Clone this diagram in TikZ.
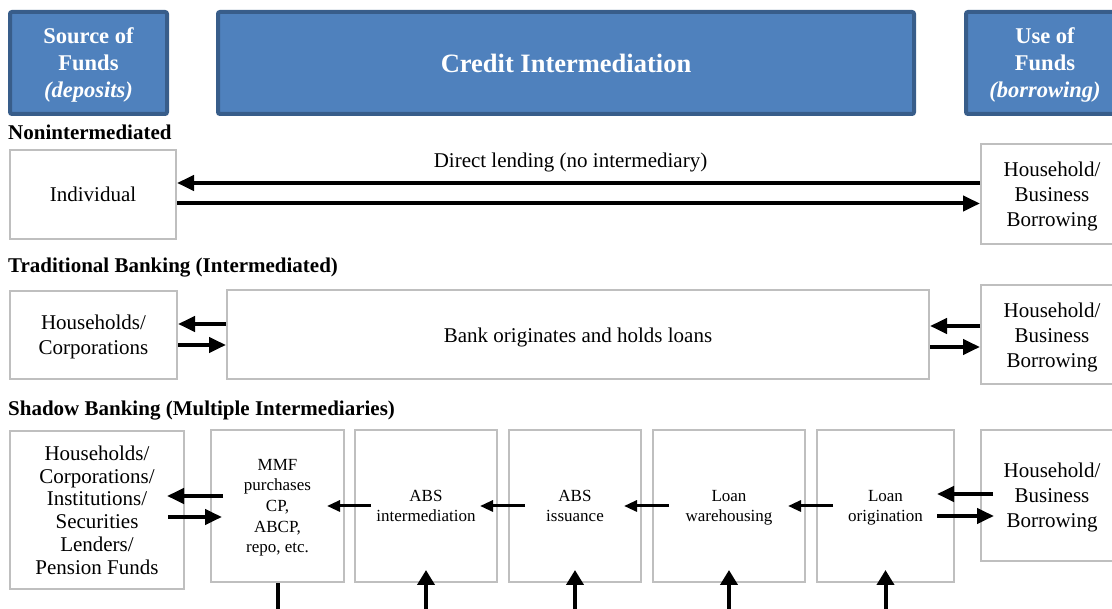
\documentclass[tikz,border=0pt]{standalone}
\usepackage{fontspec}
\setmainfont{Liberation Serif}
\usepackage{tikz}
\usetikzlibrary{
  arrows.meta,
  calc,
  positioning,
}
\definecolor{headfill}{RGB}{79, 129, 189}
\definecolor{headline}{RGB}{56, 93, 138}
\definecolor{boxline}{RGB}{191, 191, 191}
\newcommand{\hdrtxt}{\fontsize{22.5}{27}\selectfont\bfseries}
\newcommand{\crtxt}{\fontsize{26.5}{32}\selectfont\bfseries}
\newcommand{\rowtxt}{\fontsize{21}{25}\selectfont\bfseries}
\newcommand{\boxtxt}{\fontsize{21}{25}\selectfont}
\newcommand{\tallboxtxt}{\fontsize{21}{22.8}\selectfont}
\newcommand{\cellfont}{\fontsize{17}{20.7}\selectfont}
\tikzstyle{headbox} = [
  draw=headline,
  fill=headfill,
  line width=4pt,
  rounded corners=2pt,
  text=white,
  align=center,
  text depth=-9pt,
  minimum height=102,
]
\tikzstyle{plainbox} = [
  draw=boxline,
  line width=2pt,
  rectangle,
  align=center,
  text depth=0pt,
  inner sep=0pt,
]
\tikzstyle{rowhead} = [anchor=west, inner sep=0pt, font=\rowtxt]
\tikzstyle{flow} = [-{Triangle[length=17pt,width=15pt]}, line width=4pt]
\tikzstyle{thinflow} = [
  -{Triangle[length=13pt,width=11pt]},
  line width=3pt,
  shorten <=-17pt,
  shorten >=-18pt,
]
\tikzstyle{upflow} = [-{Triangle[length=15pt,width=17pt]}, line width=4pt, shorten >=-13pt]

\begin{document}
\begin{tikzpicture}[x=1pt, y=1pt, node distance=10pt]
      \useasboundingbox (0,0) rectangle (1112,609);
      \clip (0,0) rectangle (1112,609);

      % column heads
      \node[headbox, minimum width=157, font=\hdrtxt] (src) at (88.5,546) {Source of\\Funds\\\textit{(deposits)}};
      \node[headbox, minimum width=696, font=\crtxt] (credit) at (566,546) {Credit Intermediation};
      \node[headbox, minimum width=158, font=\hdrtxt] (use) at (1045,546) {Use of\\Funds\\\textit{(borrowing)}};

      % nonintermediated
      \node[rowhead] (nonint) at (8,477) {Nonintermediated};
      \node[plainbox, minimum width=166, minimum height=89, font=\boxtxt] (indiv) at (93,414.5) {Individual};
      \node[plainbox, minimum width=142, minimum height=100, font=\boxtxt] (hhone) at (1052,415) {Household/\\Business\\Borrowing};
      \draw[flow] ([yshift=11pt]hhone.west) -- ([yshift=11pt]hhone.west -| indiv.east)
        node[midway, above=9pt, xshift=-8pt, inner sep=0pt, font=\boxtxt, text=black] (direct) {Direct lending (no intermediary)};
      \draw[flow] ([yshift=-9pt]indiv.east) -- ([yshift=-9pt]indiv.east -| hhone.west);

      % traditional banking
      \node[rowhead] (trad) at (8,341) {Traditional Banking (Intermediated)};
      \node[plainbox, minimum width=167, minimum height=88, font=\boxtxt] (hhcorp) at (93.5,274) {Households/\\Corporations};
      \node[plainbox, minimum width=702, minimum height=89, font=\boxtxt, right=48pt of hhcorp] (bank) {Bank originates and holds loans};
      \node[plainbox, minimum width=142, minimum height=99, font=\boxtxt, right=50pt of bank] (hhtwo) {Household/\\Business\\Borrowing};
      \draw[flow] ([yshift=11pt]bank.west) -- ([yshift=11pt]hhcorp.east);
      \draw[flow] ([yshift=-10pt]hhcorp.east) -- ([yshift=-10pt]bank.west);
      \draw[flow] ([yshift=9pt]hhtwo.west) -- ([yshift=9pt]bank.east);
      \draw[flow] ([yshift=-12pt]bank.east) -- ([yshift=-12pt]hhtwo.west);

      % shadow banking
      \node[rowhead] (shadow) at (8,198) {Shadow Banking (Multiple Intermediaries)};
      \node[plainbox, minimum width=174, minimum height=158, font=\tallboxtxt] (hhinst) at (97,99) {Households/\\Corporations/\\Institutions/\\Securities\\Lenders/\\Pension Funds};
      \node[plainbox, minimum width=133, minimum height=152, font=\cellfont] (mmf) at (277.5,103) {MMF\\purchases\\CP,\\ABCP,\\repo, etc.};
      \node[plainbox, minimum width=142, minimum height=152, font=\cellfont, right=9pt of mmf] (absint) {ABS\\intermediation};
      \node[plainbox, minimum width=132, minimum height=152, font=\cellfont, right=of absint] (absiss) {ABS\\issuance};
      \node[plainbox, minimum width=152, minimum height=152, font=\cellfont, right=of absiss] (loanwh) {Loan\\warehousing};
      \node[plainbox, minimum width=137, minimum height=152, font=\cellfont, right=of loanwh] (loanorig) {Loan\\origination};
      \node[plainbox, minimum width=142, minimum height=131, font=\boxtxt] (hhthree) at (1052,113.5) {Household/\\Business\\Borrowing};

      \draw[flow, shorten <=-13pt, shorten >=-18pt] ([yshift=10pt]mmf.west) -- ([yshift=10pt]mmf.west -| hhinst.east);
      \draw[flow, shorten <=-17pt, shorten >=-12pt] ([yshift=-11pt]mmf.west -| hhinst.east) -- ([yshift=-11pt]mmf.west);
      \draw[thinflow] (absint.west) -- (mmf.east);
      \draw[thinflow] (absiss.west) -- (absint.east);
      \draw[thinflow] (loanwh.west) -- (absiss.east);
      \draw[thinflow] (loanorig.west) -- (loanwh.east);
      \draw[flow, shorten <=-13pt, shorten >=-18pt] ([yshift=12pt]loanorig.east -| hhthree.west) -- ([yshift=12pt]loanorig.east);
      \draw[flow, shorten <=-18pt, shorten >=-14pt] ([yshift=-10pt]loanorig.east) -- ([yshift=-10pt]loanorig.east -| hhthree.west);

      % flows leaving the picture at the bottom
      \coordinate[below=60pt of mmf.south] (mmfout);
      \coordinate[below=60pt of absint.south] (absintin);
      \coordinate[below=60pt of absiss.south] (absissin);
      \coordinate[below=60pt of loanwh.south] (loanwhin);
      \coordinate[below=60pt of loanorig.south] (loanorigin);
      \draw[line width=4pt] (mmf.south) -- (mmfout);
      \draw[upflow] (absintin) -- (absint.south);
      \draw[upflow] (absissin) -- (absiss.south);
      \draw[upflow] (loanwhin) -- (loanwh.south);
      \draw[upflow] (loanorigin) -- (loanorig.south);

    \end{tikzpicture}
\end{document}
